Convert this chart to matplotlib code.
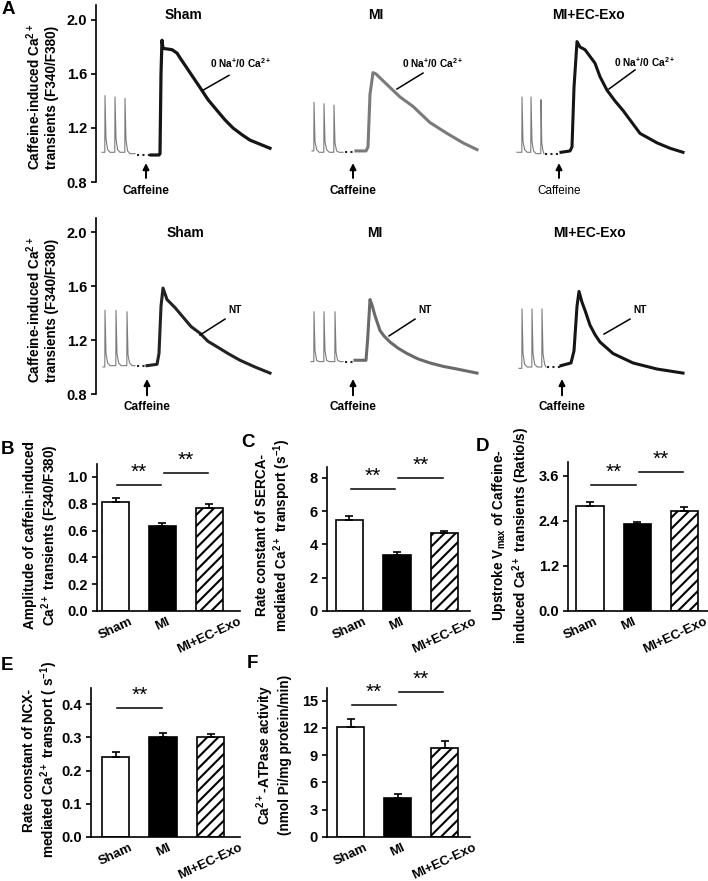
import matplotlib
matplotlib.use('Agg')
import matplotlib.pyplot as plt
import matplotlib.transforms as mtrans

plt.rcParams['font.family'] = ['Liberation Sans', 'DejaVu Sans']
plt.rcParams['font.weight'] = 'bold'
plt.rcParams['mathtext.default'] = 'regular'
plt.rcParams['hatch.linewidth'] = 1.5
plt.rcParams['axes.linewidth'] = 1.2

# ---------------- data: traces (time s, ratio F340/F380) ----------------
groups = ['Sham', 'MI', 'MI+EC-Exo']

# row 1: 0 Na+/0 Ca2+
sham_na_pre_t = [1.5, 2.2, 2.25, 2.5, 2.9, 3.5, 4.7, 4.75, 5.0, 5.4, 6.0, 7.2, 7.25, 7.5, 7.9, 8.5, 9.75]
sham_na_pre_v = [1.02, 1.02, 1.44, 1.12, 1.04, 1.02, 1.02, 1.43, 1.12, 1.04, 1.02, 1.02, 1.42, 1.11, 1.03, 1.01, 1.01]
sham_na_gap = [10.25, 13.5, 1.0]
sham_na_caf_t = [13.75, 15.75, 16.0, 16.25, 16.5, 16.75, 19.0, 20.25, 21.0, 23.5, 26.0, 28.0, 30.25, 32.25, 34.25, 36.5, 38.5, 41.0, 43.5]
sham_na_caf_v = [1.0, 1.0, 1.01, 1.6, 1.85, 1.79, 1.78, 1.755, 1.72, 1.61, 1.50, 1.41, 1.33, 1.26, 1.20, 1.15, 1.11, 1.08, 1.05]

mi_na_pre_t = [2.0, 2.45, 2.5, 2.75, 3.15, 3.8, 4.95, 5.0, 5.25, 5.65, 6.3, 7.45, 7.5, 7.75, 8.15, 8.8, 9.75]
mi_na_pre_v = [1.03, 1.03, 1.39, 1.10, 1.04, 1.02, 1.02, 1.38, 1.10, 1.04, 1.02, 1.02, 1.37, 1.09, 1.03, 1.02, 1.02]
mi_na_gap = [10.25, 12.75, 1.02]
mi_na_caf_t = [13.0, 15.5, 16.0, 16.5, 17.25, 18.0, 19.75, 21.5, 24.0, 27.25, 31.5, 35.75, 39.75, 43.25]
mi_na_caf_v = [1.03, 1.03, 1.06, 1.45, 1.61, 1.60, 1.55, 1.50, 1.43, 1.36, 1.24, 1.16, 1.09, 1.04]

exo_na_pre_t = [1.25, 2.45, 2.5, 2.75, 3.15, 3.8, 4.7, 4.75, 5.0, 5.4, 6.0, 7.2, 7.25, 7.45, 7.75, 8.0]
exo_na_pre_v = [1.02, 1.02, 1.43, 1.10, 1.04, 1.02, 1.02, 1.43, 1.10, 1.03, 1.01, 1.01, 1.41, 1.09, 1.03, 1.01]
exo_na_gap = [8.25, 12.0, 1.01]
exo_na_caf_t = [12.25, 14.5, 15.0, 15.5, 16.25, 17.0, 18.25, 20.75, 22.0, 23.75, 25.75, 27.75, 30.0, 32.0, 36.25, 39.5, 42.75]
exo_na_caf_v = [1.02, 1.03, 1.06, 1.50, 1.84, 1.80, 1.78, 1.68, 1.58, 1.48, 1.40, 1.33, 1.24, 1.16, 1.09, 1.05, 1.02]

# row 2: NT
sham_nt_pre_t = [1.75, 2.2, 2.25, 2.5, 2.9, 3.5, 4.95, 5.0, 5.25, 5.65, 6.3, 7.7, 7.75, 8.0, 8.4, 9.0, 9.75]
sham_nt_pre_v = [1.0, 1.0, 1.42, 1.10, 1.03, 1.01, 1.01, 1.42, 1.10, 1.03, 1.01, 1.01, 1.41, 1.09, 1.03, 1.01, 1.01]
sham_nt_gap = [10.25, 12.75, 1.01]
sham_nt_caf_t = [12.75, 15.25, 15.75, 16.25, 16.75, 17.75, 19.75, 21.75, 23.75, 26.0, 28.0, 30.25, 33.0, 36.0, 39.75, 43.5]
sham_nt_caf_v = [1.01, 1.02, 1.10, 1.45, 1.585, 1.50, 1.44, 1.37, 1.30, 1.25, 1.19, 1.15, 1.10, 1.05, 1.00, 0.955]

mi_nt_pre_t = [1.75, 2.45, 2.5, 2.75, 3.15, 3.8, 4.95, 5.0, 5.25, 5.65, 6.3, 7.7, 7.75, 8.0, 8.4, 9.0, 9.75]
mi_nt_pre_v = [1.04, 1.04, 1.41, 1.12, 1.05, 1.04, 1.04, 1.41, 1.12, 1.05, 1.04, 1.04, 1.41, 1.11, 1.05, 1.04, 1.04]
mi_nt_gap = [10.25, 12.75, 1.04]
mi_nt_caf_t = [12.75, 15.5, 15.9, 16.5, 17.0, 17.75, 19.0, 20.0, 21.5, 23.5, 25.75, 28.5, 31.5, 34.75, 38.25, 43.25]
mi_nt_caf_v = [1.05, 1.05, 1.20, 1.50, 1.46, 1.38, 1.27, 1.23, 1.185, 1.14, 1.10, 1.06, 1.03, 1.005, 0.985, 0.955]

exo_nt_pre_t = [1.75, 2.45, 2.5, 2.75, 3.15, 3.8, 4.95, 5.0, 5.25, 5.65, 6.3, 7.45, 7.5, 7.75, 8.15, 8.5]
exo_nt_pre_v = [0.99, 0.99, 1.43, 1.10, 1.02, 1.0, 1.0, 1.43, 1.10, 1.02, 1.0, 1.0, 1.43, 1.10, 1.02, 1.0]
exo_nt_gap = [8.75, 12.25, 1.0]
exo_nt_caf_t = [12.25, 14.75, 15.5, 16.25, 16.75, 17.5, 18.25, 19.5, 20.75, 22.0, 25.25, 30.25, 36.25, 42.75]
exo_nt_caf_v = [1.01, 1.03, 1.12, 1.45, 1.56, 1.48, 1.42, 1.31, 1.24, 1.185, 1.10, 1.03, 0.985, 0.955]

trace_yticks = [0.8, 1.2, 1.6, 2.0]

# ---------------- data: bar panels ----------------
bar_labels = ['Sham', 'MI', 'MI+EC-Exo']
amp_mean = [0.81, 0.634, 0.766]
amp_err = [0.03, 0.02, 0.03]
serca_mean = [5.47, 3.36, 4.67]
serca_err = [0.23, 0.16, 0.15]
vmax_mean = [2.80, 2.31, 2.67]
vmax_err = [0.10, 0.07, 0.09]
ncx_mean = [0.24, 0.30, 0.302]
ncx_err = [0.017, 0.012, 0.008]
atp_mean = [12.1, 4.3, 9.85]
atp_err = [0.9, 0.4, 0.75]

# ---------------- figure ----------------
W, H = 708, 881
fig = plt.figure(figsize=(W / 100, H / 100), dpi=100)


def px_axes(l, t, r, b):
    return fig.add_axes([l / W, 1 - b / H, (r - l) / W, (b - t) / H])


def trace_row(top, bottom, ymax, rows, titles_y, label, arrow_v, cap_v, cap_weights):
    axs = []
    for k, left in enumerate([96, 304, 512]):
        ax = px_axes(left, top, left + 180, bottom)
        ax.set_xlim(0, 45)
        ax.set_ylim(0.8, ymax)
        ax.patch.set_alpha(0)
        for s in ['top', 'right', 'bottom']:
            ax.spines[s].set_visible(False)
        ax.set_xticks([])
        if k == 0:
            ax.spines['left'].set_linewidth(1.2)
            ax.set_yticks(trace_yticks)
            ax.set_yticklabels(['%.1f' % v for v in trace_yticks], fontsize=10.5, fontweight='bold')
            ax.tick_params(axis='y', direction='out', length=3.5, width=1.2, pad=3)
        else:
            ax.spines['left'].set_visible(False)
            ax.set_yticks([])
        pre_t, pre_v, gap, caf_t, caf_v, col, lw, title_t, lab_xy, line_xy, arr_t = rows[k]
        ax.plot(pre_t, pre_v, color='#7c7c7c', lw=0.8)
        ax.plot([gap[0], gap[1]], [gap[2], gap[2]], color='#222222', lw=1.5,
                linestyle=(0, (1, 1.6)))
        ax.plot(caf_t, caf_v, color=col, lw=lw, solid_joinstyle='round')
        ax.text(title_t, titles_y, groups[k], ha='center', va='center', fontsize=10, fontweight='bold')
        ax.text(lab_xy[0], lab_xy[1], label, ha='center', va='center', fontsize=7.3, fontweight='bold')
        ax.plot(line_xy[0], line_xy[1], color='black', lw=1.1)
        ax.annotate('', xy=(arr_t, arrow_v[1]), xytext=(arr_t, arrow_v[0]),
                    arrowprops=dict(arrowstyle='-|>', color='black', lw=1.4, mutation_scale=9,
                                    shrinkA=0, shrinkB=0), annotation_clip=False)
        ax.text(arr_t, cap_v, 'Caffeine', ha='center', va='center', fontsize=8.5,
                fontweight=cap_weights[k], clip_on=False)
        axs.append(ax)
    return axs


row1 = [
    (sham_na_pre_t, sham_na_pre_v, sham_na_gap, sham_na_caf_t, sham_na_caf_v, '#151515', 2.3, 21.75,
     (36.25, 1.68), ([33.25, 26.75], [1.59, 1.48]), 12.5),
    (mi_na_pre_t, mi_na_pre_v, mi_na_gap, mi_na_caf_t, mi_na_caf_v, '#7a7a7a', 2.2, 18.0,
     (32.25, 1.68), ([29.75, 23.25], [1.607, 1.489]), 12.25),
    (exo_na_pre_t, exo_na_pre_v, exo_na_gap, exo_na_caf_t, exo_na_caf_v, '#151515', 2.2, 19.0,
     (33.25, 1.69), ([30.75, 24.25], [1.63, 1.489]), 11.75),
]
trace_row(5, 182, 2.111, row1, 2.037, r'0 Na$^{+}$/0 Ca$^{2+}$',
          (0.83, 0.94), 0.733, ['bold', 'bold', 'normal'])

row2 = [
    (sham_nt_pre_t, sham_nt_pre_v, sham_nt_gap, sham_nt_caf_t, sham_nt_caf_v, '#222222', 2.2, 22.25,
     (34.75, 1.42), ([32.25, 26.0], [1.355, 1.237]), 12.75),
    (mi_nt_pre_t, mi_nt_pre_v, mi_nt_gap, mi_nt_caf_t, mi_nt_caf_v, '#6a6a6a', 2.2, 17.75,
     (30.25, 1.42), ([27.75, 21.25], [1.355, 1.23]), 12.25),
    (exo_nt_pre_t, exo_nt_pre_v, exo_nt_gap, exo_nt_caf_t, exo_nt_caf_v, '#151515', 2.2, 19.25,
     (32.0, 1.42), ([29.5, 23.0], [1.355, 1.244]), 12.5),
]
trace_row(218, 394, 2.104, row2, 1.99, 'NT',
          (0.79, 0.911), 0.70, ['bold', 'bold', 'bold'])

ylab_fs = 9.8
fig.text(42 / W, 1 - 97 / H, 'Caffeine-induced Ca$^{2+}$\ntransients (F340/F380)', rotation=90,
         ha='center', va='center', fontsize=ylab_fs, fontweight='bold', multialignment='center')
fig.text(42 / W, 1 - 310 / H, 'Caffeine-induced Ca$^{2+}$\ntransients (F340/F380)', rotation=90,
         ha='center', va='center', fontsize=ylab_fs, fontweight='bold', multialignment='center')


# ---------------- bar panels ----------------
def bar_panel(box, xlim, ylim, means, errs, yticks, fmt, sigs, ylabel, ylab_x, ylab_y, lab_shift=0):
    ax = px_axes(*box)
    x = [0, 1, 2]
    ax.bar(x[0], means[0], width=0.58, color='white', edgecolor='black', linewidth=1.2, zorder=2)
    ax.bar(x[1], means[1], width=0.58, color='black', edgecolor='black', linewidth=1.2, zorder=2)
    ax.bar(x[2], means[2], width=0.58, color='white', edgecolor='black', linewidth=1.2,
           hatch='///', zorder=2)
    ax.errorbar(x, means, yerr=[[0, 0, 0], errs], fmt='none', ecolor='black', elinewidth=1.2,
                capsize=3, capthick=1.2, zorder=3)
    ax.set_xlim(*xlim)
    ax.set_ylim(*ylim)
    for s in ['top', 'right']:
        ax.spines[s].set_visible(False)
    ax.set_yticks(yticks)
    ax.set_yticklabels([fmt % v for v in yticks], fontsize=10.5, fontweight='bold')
    ax.tick_params(axis='y', direction='out', length=3.5, width=1.2, pad=3)
    ax.set_xticks(x)
    ax.set_xticklabels(bar_labels, rotation=25, ha='center', fontsize=9.5, fontweight='bold')
    ax.tick_params(axis='x', length=0, pad=3)
    if lab_shift:
        off = mtrans.ScaledTranslation(lab_shift / 100, 0, fig.dpi_scale_trans)
        for lab in ax.get_xticklabels():
            lab.set_transform(lab.get_transform() + off)
    for i, j, yv in sigs:
        ax.plot([i + 0.03, j - 0.03], [yv, yv], color='black', lw=1.1, clip_on=False)
        ax.annotate('**', xy=((i + j) / 2, yv), xytext=(0, 9), textcoords='offset points',
                    ha='center', va='center', fontsize=15, fontweight='normal',
                    annotation_clip=False)
    fig.text(ylab_x / W, 1 - ylab_y / H, ylabel, rotation=90, ha='center', va='center',
             fontsize=ylab_fs, fontweight='bold', multialignment='center')
    return ax


bar_panel((97, 464, 240, 611), (-0.394, 2.65), (0, 1.097), amp_mean, amp_err,
          [0, 0.2, 0.4, 0.6, 0.8, 1.0], '%.1f', [(0, 1, 0.94), (1, 2, 1.03)],
          'Amplitude of caffein-induced\nCa$^{2+}$ transients (F340/F380)', 42, 535)
bar_panel((327, 467, 470, 611), (-0.47, 2.54), (0, 8.65), serca_mean, serca_err,
          [0, 2, 4, 6, 8], '%d', [(0, 1, 7.33), (1, 2, 8.0)],
          'Rate constant of SERCA-\nmediated Ca$^{2+}$ transport (s$^{-1}$)', 274, 535)
bar_panel((568, 462, 708, 611), (-0.466, 2.5), (0, 3.97), vmax_mean, vmax_err,
          [0, 1.2, 2.4, 3.6], '%.1f', [(0, 1, 3.36), (1, 2, 3.70)],
          'Upstroke V$_{max}$ of Caffeine-\ninduced Ca$^{2+}$ transients (Ratio/s)', 511, 535,
          lab_shift=-9)
bar_panel((91, 688, 240, 837), (-0.516, 2.62), (0, 0.449), ncx_mean, ncx_err,
          [0, 0.1, 0.2, 0.3, 0.4], '%.1f', [(0, 1, 0.389)],
          'Rate constant of NCX-\nmediated Ca$^{2+}$ transport ( s$^{-1}$)', 41, 760)
bar_panel((327, 688, 470, 837), (-0.5, 2.54), (0, 16.4), atp_mean, atp_err,
          [0, 3, 6, 9, 12, 15], '%d', [(0, 1, 14.55), (1, 2, 16.0)],
          'Ca$^{2+}$-ATPase activity\n(nmol Pi/mg protein/min)', 273, 755)

# panel letters
for letter, (lx, ly) in {'A': (8, 10), 'B': (8, 449), 'C': (248, 443), 'D': (483, 447),
                         'E': (7, 665), 'F': (252, 664)}.items():
    fig.text(lx / W, 1 - ly / H, letter, ha='center', va='center', fontsize=13.5, fontweight='bold')

fig.savefig('out.png', dpi=100)
